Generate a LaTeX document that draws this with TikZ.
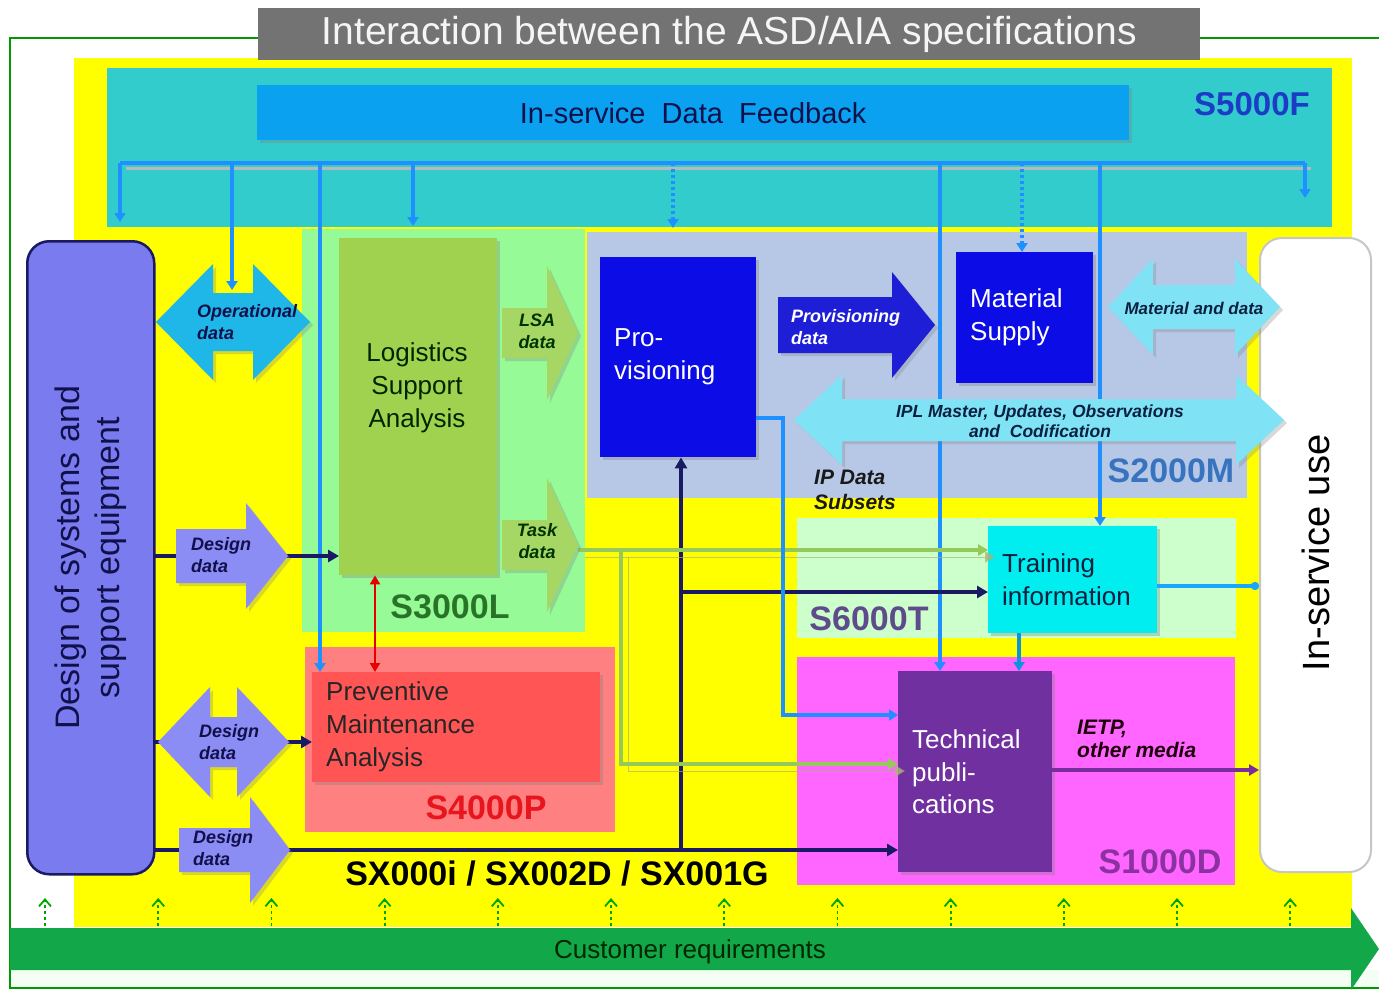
\documentclass[tikz,border=0pt]{standalone}
\usepackage{fontspec}
\setmainfont{Liberation Sans}
\usetikzlibrary{arrows.meta,shadows,calc}
\definecolor{ylw}{RGB}{255,255,0}
\definecolor{tealbg}{RGB}{51,204,204}
\definecolor{fbar}{RGB}{10,162,240}
\definecolor{fblue}{RGB}{30,144,255}
\definecolor{titlegray}{RGB}{115,115,115}
\definecolor{s3bg}{RGB}{150,250,150}
\definecolor{lsag}{RGB}{160,210,80}
\definecolor{lsaarr}{RGB}{166,214,100}
\definecolor{s2bg}{RGB}{182,200,230}
\definecolor{provb}{RGB}{12,12,230}
\definecolor{provarr}{RGB}{30,30,215}
\definecolor{s6bg}{RGB}{204,255,204}
\definecolor{trcyan}{RGB}{0,238,240}
\definecolor{s4bg}{RGB}{255,128,128}
\definecolor{pmared}{RGB}{255,85,85}
\definecolor{s1bg}{RGB}{255,102,255}
\definecolor{tppurple}{RGB}{112,48,160}
\definecolor{desb}{RGB}{123,123,240}
\definecolor{desarr}{RGB}{140,140,245}
\definecolor{opblue}{RGB}{31,182,232}
\definecolor{ltcyan}{RGB}{128,227,245}
\definecolor{navyl}{RGB}{25,25,100}
\definecolor{grnline}{RGB}{150,200,90}
\definecolor{olvline}{RGB}{170,180,120}
\definecolor{custg}{RGB}{18,168,74}
\definecolor{c5}{RGB}{28,60,200}
\definecolor{c3}{RGB}{40,115,40}
\definecolor{c2}{RGB}{55,115,190}
\definecolor{c6}{RGB}{95,75,140}
\definecolor{c4}{RGB}{232,20,30}
\definecolor{c1}{RGB}{140,50,160}
\definecolor{ietp}{RGB}{122,46,158}
\definecolor{lblnavy}{RGB}{16,16,74}
\definecolor{lbldark}{RGB}{10,32,64}
\newcommand\blkR[7]{%
  \path[#7] (#1,{#3-#4}) -- ({#2-#6},{#3-#4}) -- ({#2-#6},{#3-#5}) -- (#2,#3)
    -- ({#2-#6},{#3+#5}) -- ({#2-#6},{#3+#4}) -- (#1,{#3+#4}) -- cycle;}
\newcommand\blkD[7]{%
  \path[#7] (#1,#3) -- ({#1+#6},{#3-#5}) -- ({#1+#6},{#3-#4}) -- ({#2-#6},{#3-#4})
    -- ({#2-#6},{#3-#5}) -- (#2,#3) -- ({#2-#6},{#3+#5}) -- ({#2-#6},{#3+#4})
    -- ({#1+#6},{#3+#4}) -- ({#1+#6},{#3+#5}) -- cycle;}
\newcommand\mkbox[8]{%
  \pgfmathsetmacro\bxtw{#4-28}%
  \node[bx, fill=#6, text=#7, minimum width=#4pt, minimum height=#5pt, text width=\bxtw pt] (#1) at (#2,#3) {#8};}
\begin{document}
\begin{tikzpicture}[x=1pt,y=-1pt,
  bx/.style={rectangle, anchor=north west, inner xsep=14pt, inner ysep=0pt, align=left,
    font=\fontsize{26}{33}\selectfont,
    drop shadow={shadow xshift=3pt,shadow yshift=-3pt,opacity=0.35}},
  lbl/.style={font=\bfseries\itshape\fontsize{18}{22}\selectfont, align=left, inner sep=0pt},
  spec/.style={font=\bfseries\fontsize{34}{38}\selectfont, inner sep=0pt},
  fb/.style={draw=fblue, line width=3.5pt},
  fbarrow/.style={fb, -{Triangle[length=9pt,width=11pt]}},
  navyarrow/.style={draw=navyl, line width=3.5pt, -{Triangle[length=11pt,width=12pt]}},
  grn/.style={draw=grnline, line width=3.5pt, -{Triangle[length=10pt,width=11pt]},
    preaction={draw=olvline, opacity=0.7, transform canvas={xshift=7pt,yshift=-7pt}}},
  arrshadow/.style={drop shadow={shadow xshift=3pt,shadow yshift=-3pt,opacity=0.3}},
  upa/.style={draw=green!65!black, line width=1.8pt, dash pattern=on 3pt off 3pt,
    -{Straight Barb[length=7pt,width=12pt]}},
]
\useasboundingbox (0,0) rectangle (1379,990);
\fill[white] (0,0) rectangle (1379,990);

% frame
\draw[green!60!black, line width=2pt] (258,38) -- (10,38) -- (10,988) -- (1379,988);
\draw[green!60!black, line width=2pt] (1200,38) -- (1379,38);
\fill[green!5] (11,970) rectangle (1379,987);

% yellow background
\fill[ylw] (74,58) rectangle (1352,927);

% title
\node[fill=titlegray, minimum width=942pt, minimum height=52pt, anchor=north west, inner sep=0pt,
  text=gray!8, font=\fontsize{39}{42}\selectfont] (title) at (258,8) {Interaction between the ASD/AIA specifications};

% regions
\fill[tealbg] (107,68) rectangle (1332,227);
\fill[s3bg] (302,229) rectangle (585,632);
\fill[s2bg] (587,232) rectangle (1247,498);
\fill[s6bg] (797,518) rectangle (1236,638);
\fill[s4bg] (305,647) rectangle (615,832);
\fill[s1bg] (797,657) rectangle (1235,885);

% feedback bar
\node[rectangle, anchor=north west, fill=fbar, minimum width=872pt, minimum height=55pt, inner sep=0pt,
  text=lblnavy, font=\fontsize{29}{32}\selectfont,
  drop shadow={shadow xshift=3pt,shadow yshift=-3pt,opacity=0.35}] (feedbar) at (257,85)
  {In-service\ \ Data\ \ Feedback};
\node[spec, text=c5, font=\bfseries\fontsize{33}{36}\selectfont] (s5) at (1252,104) {S5000F};

% main boxes
\node[rectangle, anchor=north west, fill=lsag, minimum width=158pt, minimum height=337pt,
  drop shadow={shadow xshift=3pt,shadow yshift=-3pt,opacity=0.35}] (lsa) at (339,238) {};
\mkbox{prov}{600}{257}{156}{200}{provb}{white}{Pro-\\visioning}
\mkbox{mat}{956}{252}{137}{131}{provb}{white}{Material\\Supply}
\mkbox{train}{988}{526}{169}{107}{trcyan}{lbldark}{Training\\information}
\mkbox{tp}{898}{671}{154}{201}{tppurple}{white}{Technical\\publi-\\cations}
\mkbox{pma}{312}{672}{288}{110}{pmared}{black!85}{Preventive\\Maintenance\\Analysis}
\node[font=\fontsize{26}{33}\selectfont, align=center, text=black!85!green] (lsatext) at (417,388)
  {Logistics\\Support\\Analysis};

\node[rectangle, rounded corners=22pt, anchor=north west, fill=desb, draw=navyl, line width=2.5pt,
  minimum width=127pt, minimum height=633pt] (design) at (26,240) {};
\node[rotate=90, align=center, font=\fontsize{34}{40}\selectfont, text=lblnavy] (destext) at (design.center)
  {Design of systems and\\support equipment};
\node[rectangle, rounded corners=22pt, anchor=north west, fill=white, draw=gray!45, line width=2pt,
  minimum width=111pt, minimum height=634pt] (inserv) at (1259,237) {};
\node[rotate=90, font=\fontsize{38}{40}\selectfont, text=black] (instext) at (1316,553) {In-service use};

% feedback lines
\coordinate (f1) at (120,163);
\coordinate (f2) at (232,163);
\coordinate (f3) at (320,163);
\coordinate (f4) at (413,163);
\coordinate (f5) at (673,163);
\coordinate (f6) at (940,163);
\coordinate (f7) at (1022,163);
\coordinate (f8) at (1100,163);
\coordinate (f9) at (1305,163);
\draw[draw=gray!55, line width=3pt] ($(f1)+(6,5)$) -- ($(f9)+(6,5)$);
\draw[fb] (f1) -- (f9);
\draw[fbarrow] (f1) -- ++(0,59);
\draw[fbarrow] (f2) -- ++(0,127);
\draw[fbarrow] (f3) -- (f3 |- pma.north);
\draw[fbarrow] (f4) -- ++(0,63);
\draw[fbarrow, dash pattern=on 3pt off 3pt] (f5) -- ++(0,65);
\draw[fbarrow] (f6) -- (f6 |- tp.north);
\draw[fbarrow, dash pattern=on 3pt off 3pt] (f7) -- (f7 |- mat.north);
\draw[fbarrow] (f8) -- (f8 |- train.north);
\draw[fbarrow] (f9) -- ++(0,35);

% connectors
\coordinate (d1) at (153,556);
\coordinate (d2) at (153,742);
\coordinate (d3) at (153,850);
\coordinate (j1) at (681,850);
\coordinate (j2) at (681,592);
\draw[navyarrow] (d1) -- (d1 -| lsa.west);
\draw[navyarrow] (d2) -- (d2 -| pma.west);
\draw[navyarrow] (d3) -- (d3 -| tp.west);
\draw[navyarrow] (j1) -- (j1 |- prov.south);
\draw[navyarrow] (j2) -- (j2 -| train.west);

\coordinate (t1) at (578,550);
\coordinate (t2) at (621,550);
\coordinate (t3) at (621,764);
\draw[grn] (t1) -- (t1 -| train.west);
\draw[grn] (t2) -- (t3) -- (t3 -| tp.west);

\coordinate (p1) at (756,418);
\coordinate (p2) at (783,715);
\draw[fbarrow] (p1) -| (p2) -- (p2 -| tp.west);

\coordinate (rx) at (375,600);
\draw[red!90!black, line width=2.5pt, {Triangle[length=9pt,width=10pt]}-{Triangle[length=9pt,width=10pt]}]
  (rx |- lsa.south) -- (rx |- pma.north);

\coordinate (tx) at (1019,650);
\draw[draw=cyan!80!blue, line width=4pt, -{Triangle[length=9pt,width=11pt]}] (tx |- train.south) -- (tx |- tp.north);
\coordinate (tr) at (1157,586);
\draw[draw=fblue!80!cyan, line width=4pt, -{Circle[length=8pt]}] (tr) -- (tr -| inserv.west);
\coordinate (ie) at (1052,770);
\draw[draw=ietp, line width=3.5pt, -{Triangle[length=10pt,width=11pt]}] (ie) -- (ie -| inserv.west);

% block arrows
\blkD{156}{310}{322}{29}{58}{57}{fill=opblue, arrshadow}
\blkR{502}{578}{333}{25}{67}{31}{fill=lsaarr, arrshadow}
\blkR{502}{578}{545}{25}{67}{31}{fill=lsaarr, arrshadow}
\blkR{176}{288}{556}{27}{53}{42}{fill=desarr, arrshadow}
\blkD{158}{289}{742}{25}{55}{52}{fill=desarr, arrshadow}
\blkR{179}{290}{850}{22}{53}{40}{fill=desarr, arrshadow}
\blkR{778}{935}{325}{28}{53}{43}{fill=provarr, arrshadow}
\blkD{1108}{1280}{307}{22}{48}{45}{fill=ltcyan, arrshadow}
\blkD{794}{1284}{420}{21}{45}{48}{fill=ltcyan, arrshadow}
\blkR{10}{1379}{949}{21}{41}{28}{fill=custg}

% labels in arrows
\node[lbl, text=lblnavy, anchor=west] (lop) at (197,322) {Operational\\data};
\node[lbl, text=black!80!green, align=center] (llsa) at (537,331) {LSA\\data};
\node[lbl, text=black!80!green, align=center] (ltask) at (537,541) {Task\\data};
\node[lbl, text=lblnavy, anchor=west] (ld1) at (191,555) {Design\\data};
\node[lbl, text=lblnavy, anchor=west] (ld2) at (199,742) {Design\\data};
\node[lbl, text=lblnavy, anchor=west] (ld3) at (193,848) {Design\\data};
\node[lbl, text=white, anchor=west] (lprov) at (791,327) {Provisioning\\data};
\node[lbl, text=lbldark, font=\bfseries\itshape\fontsize{17}{20}\selectfont] (lmat) at (1194,308) {Material and data};
\node[lbl, text=lbldark, align=center, font=\bfseries\itshape\fontsize{17.5}{20}\selectfont] (lipl) at (1040,421)
  {IPL Master, Updates, Observations\\and\ \ Codification};
\node[lbl, text=black!90, anchor=west, font=\bfseries\itshape\fontsize{21}{25}\selectfont] (lipd) at (814,490) {IP Data\\Subsets};
\node[lbl, text=black!85!purple, anchor=west, font=\bfseries\itshape\fontsize{21}{23}\selectfont] (lietp) at (1077,739) {IETP,\\other media};

% spec labels
\node[spec, text=c3] (s3) at (450,607) {S3000L};
\node[spec, text=c2] (s2) at (1171,471) {S2000M};
\node[spec, text=c6] (s6) at (869,619) {S6000T};
\node[spec, text=c4] (s4) at (486,808) {S4000P};
\node[spec, text=c1] (s1) at (1160,862) {S1000D};
\node[spec, text=black] (sx) at (557,874) {SX000i / SX002D / SX001G};

\node[font=\fontsize{26}{30}\selectfont, text=black!85!green] (cust) at (690,952) {Customer requirements};

% up arrows
\foreach \i in {0,...,11} {
  \draw[upa] ({45+113.2*\i},926) -- ({45+113.2*\i},898);
}
\end{tikzpicture}
\end{document}
